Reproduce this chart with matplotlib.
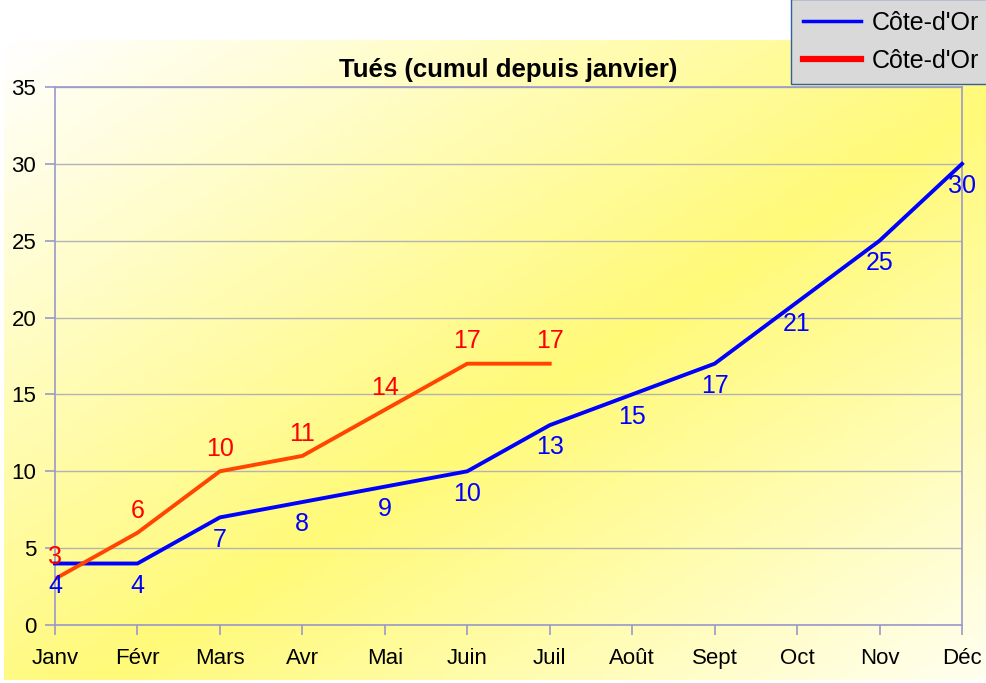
import numpy as np
import matplotlib.pyplot as plt
from matplotlib.colors import LinearSegmentedColormap
from matplotlib.lines import Line2D

plt.rcParams['font.family'] = ['Liberation Sans', 'DejaVu Sans']

months = ['Janv', 'Févr', 'Mars', 'Avr', 'Mai', 'Juin', 'Juil',
          'Août', 'Sept', 'Oct', 'Nov', 'Déc']
blue_vals = [4, 4, 7, 8, 9, 10, 13, 15, 17, 21, 25, 30]
red_vals = [3, 6, 10, 11, 14, 17, 17]
legend_labels = ["Côte-d'Or", "Côte-d'Or"]

fig = plt.figure(figsize=(9.86, 6.83), dpi=100)

# gradient background
bg = fig.add_axes([4 / 986, 3 / 683, 982 / 986, 640 / 683], zorder=0)
xx, yy = np.meshgrid(np.linspace(0, 1, 300), np.linspace(0, 1, 200))
t = (xx + yy) / 2
cmap = LinearSegmentedColormap.from_list(
    'grad', [(0, '#ffffff'), (0.55, '#fffa78'), (1, '#fffff0')])
bg.imshow(t, cmap=cmap, aspect='auto', origin='upper', extent=[0, 1, 0, 1])
bg.axis('off')

ax = fig.add_axes([55 / 986, 58 / 683, 907 / 986, 538 / 683], zorder=1)
ax.patch.set_alpha(0)
x = np.arange(len(months))

ax.plot(x, blue_vals, color='#0000ff', lw=2.8, zorder=3, clip_on=False)
ax.plot(x[:len(red_vals)], red_vals, color='#ff4500', lw=2.8, zorder=3)

for i, v in enumerate(blue_vals):
    ax.annotate(str(v), (i, v), xytext=(0, -16), textcoords='offset points',
                ha='center', va='center', color='#0000ff', fontsize=18)
for i, v in enumerate(red_vals):
    ax.annotate(str(v), (i, v), xytext=(0, 16), textcoords='offset points',
                ha='center', va='center', color='#ff0000', fontsize=18)

ax.set_xlim(0, 11)
ax.set_ylim(0, 35)
ax.set_yticks(range(0, 36, 5))
ax.set_xticks(x)
ax.set_xticklabels(months)
ax.grid(axis='y', color='#b3b3b3', lw=1)
ax.set_axisbelow(True)
for s in ax.spines.values():
    s.set_color('#9999cc')
    s.set_linewidth(1.2)
ax.tick_params(colors='#9999cc', labelcolor='black', labelsize=16, length=7.5, width=1.2)
ax.tick_params(axis='x', pad=9)
ax.tick_params(axis='y', pad=6)
ax.set_title('Tués (cumul depuis janvier)', fontsize=18.5, fontweight='bold', pad=7)

handles = [Line2D([], [], color='#0000ff', lw=2.5),
           Line2D([], [], color='#ff0000', lw=4.5)]
leg = fig.legend(handles, legend_labels, loc='upper right',
                 bbox_to_anchor=(1.004, 1.001), fontsize=18, frameon=True,
                 fancybox=False, handlelength=2.35, handletextpad=0.4,
                 borderpad=0.45, labelspacing=0.56, borderaxespad=0)
leg.get_frame().set_facecolor('#d9d9d9')
leg.get_frame().set_edgecolor('#3060a0')
leg.get_frame().set_alpha(1)
leg.set_zorder(5)

plt.savefig('out.png', dpi=100)
